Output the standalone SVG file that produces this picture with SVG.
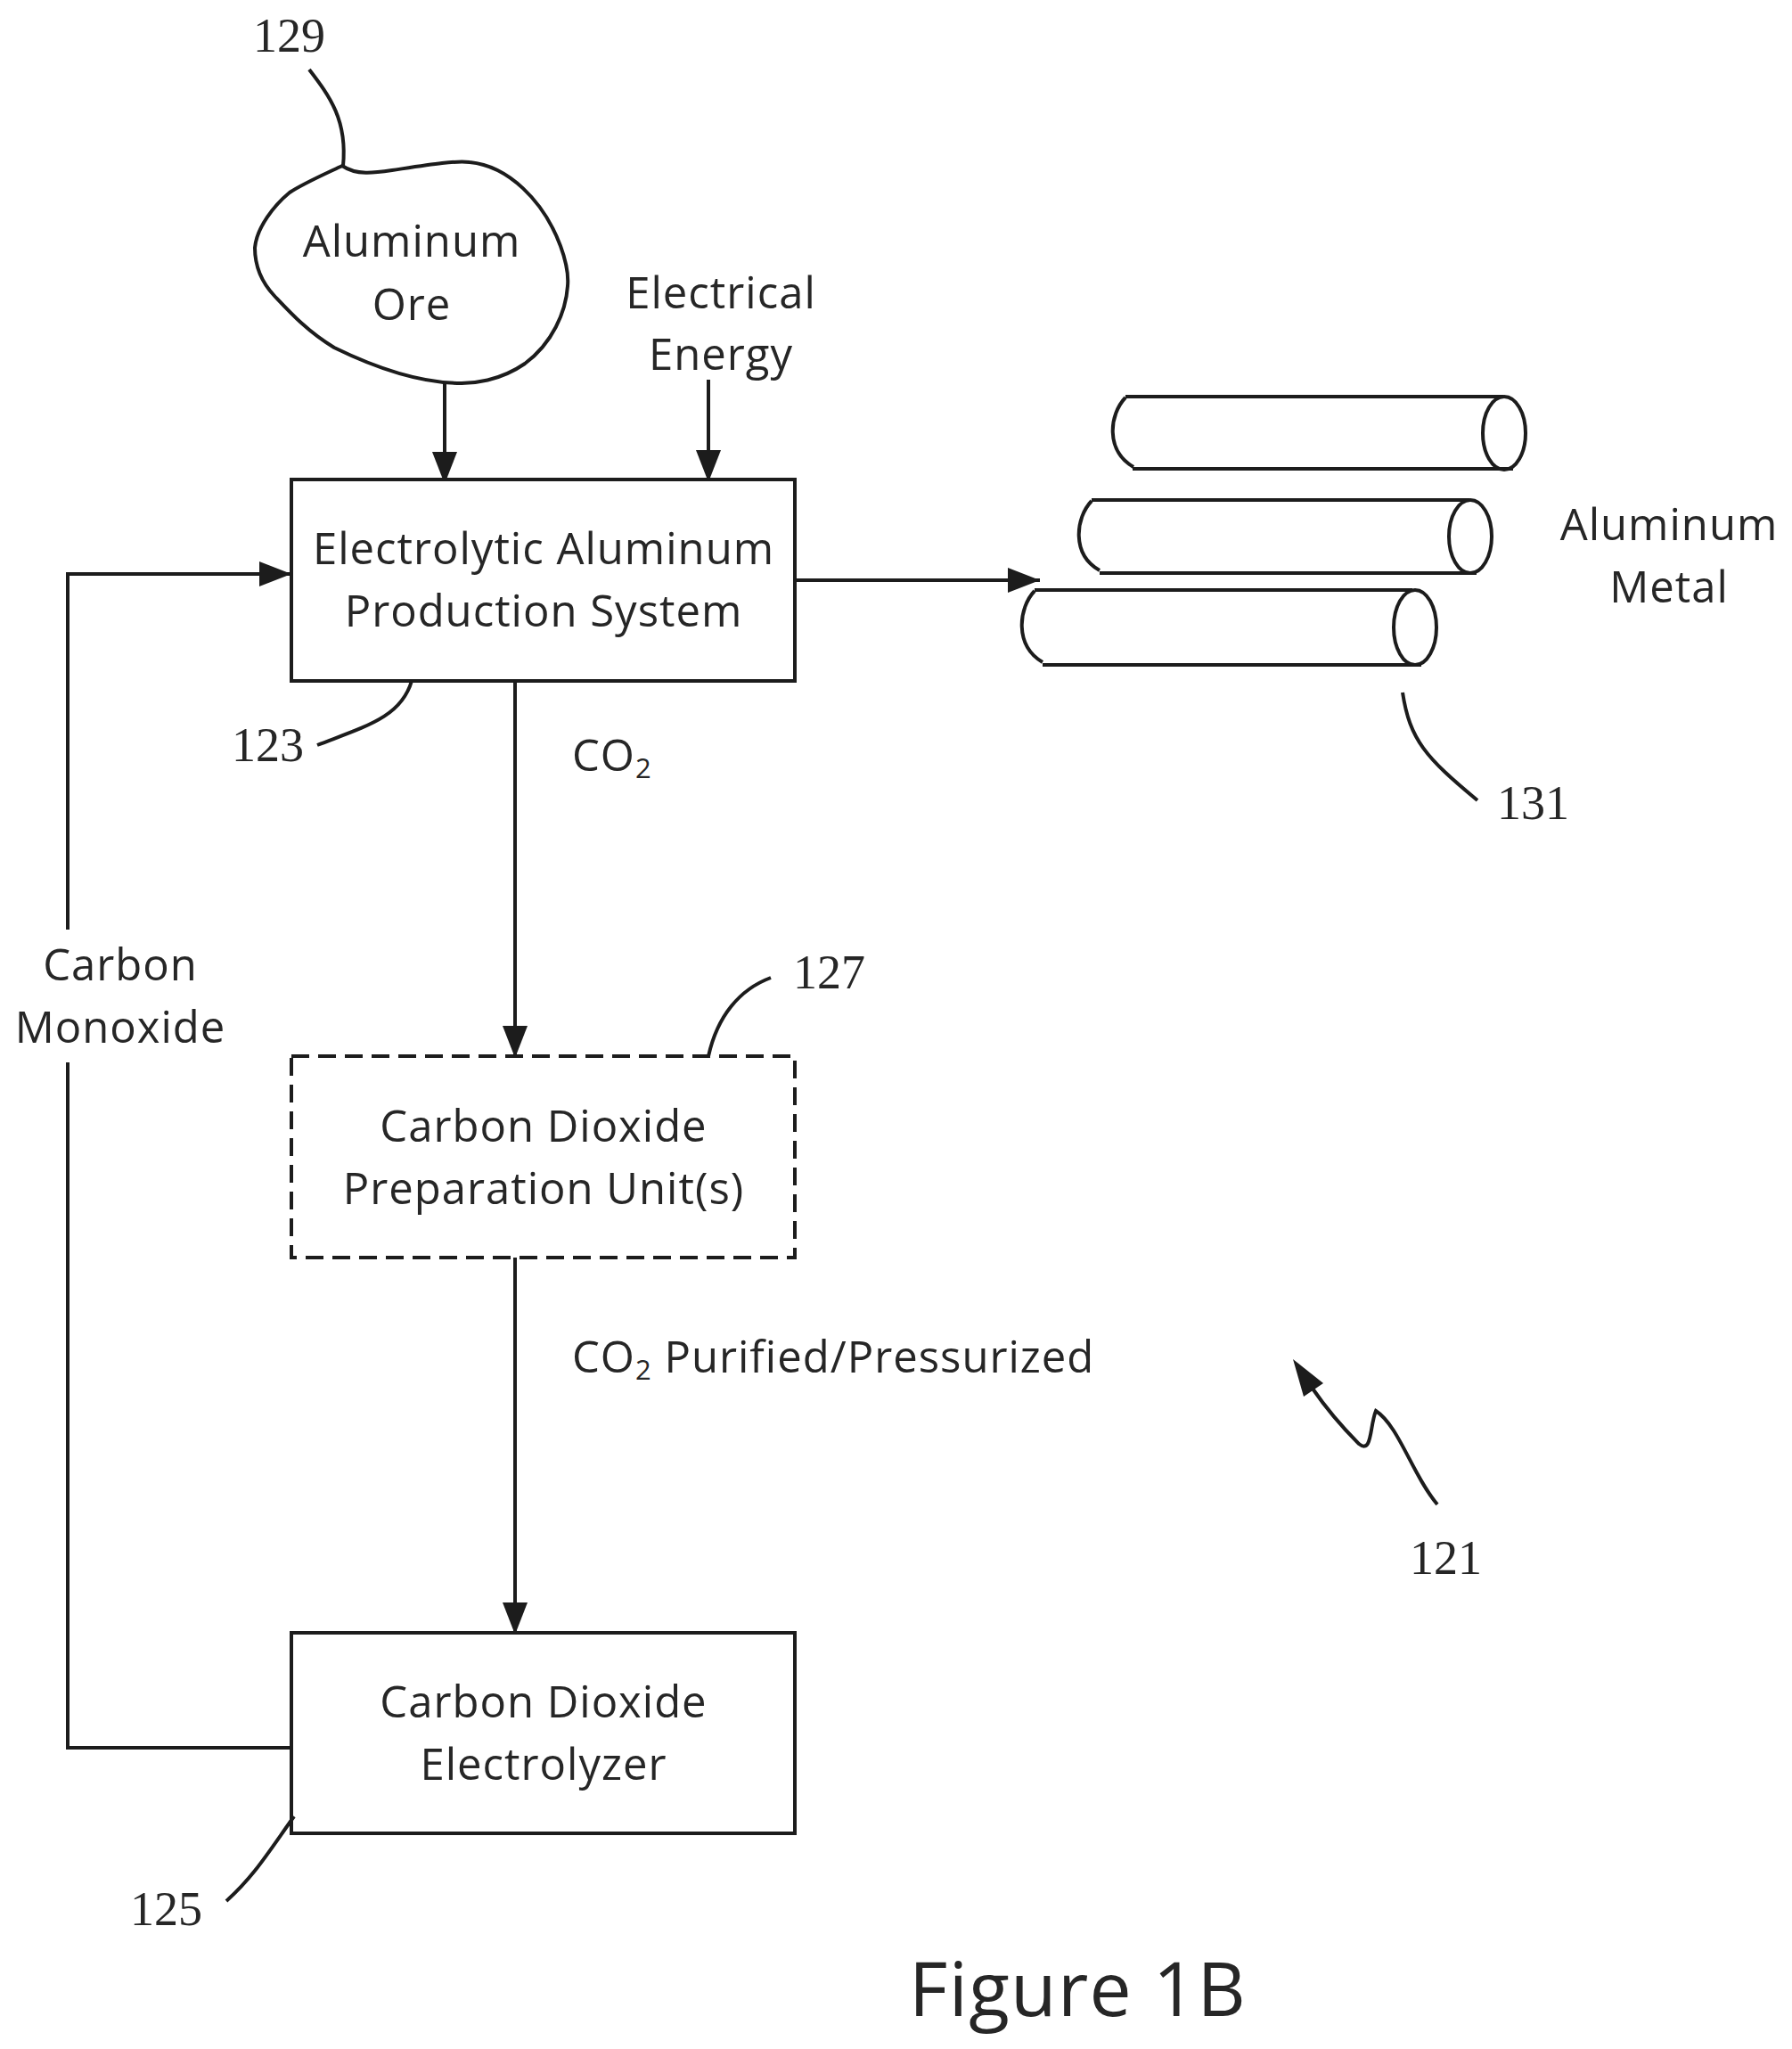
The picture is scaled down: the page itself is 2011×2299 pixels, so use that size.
<svg xmlns="http://www.w3.org/2000/svg" width="2011" height="2299" viewBox="0 0 2011 2299">
<style>
.l{fill:none;stroke:#1c1c1c;stroke-width:4}
.t{font-family:"Open Sans","Liberation Sans",sans-serif;font-size:49px;letter-spacing:1px;fill:#262626;text-anchor:middle}
.s{font-family:"Open Sans","Liberation Sans",sans-serif;font-size:49px;letter-spacing:1px;fill:#262626}
.n{font-family:"Liberation Serif",serif;font-size:54px;fill:#262626}
.box{fill:#fff;stroke:#1c1c1c;stroke-width:4}
</style>
<defs>
<marker id="a" markerUnits="userSpaceOnUse" markerWidth="38" markerHeight="28" refX="36" refY="14" orient="auto" viewBox="0 0 38 28"><path d="M0 0L36 14L0 28Z" fill="#1c1c1c"/></marker>
</defs>
<rect width="2011" height="2299" fill="#fff"/>
<g id="connectors">
<path class="l" marker-end="url(#a)" d="M499 430V543"/>
<path class="l" marker-end="url(#a)" d="M795 426V541"/>
<path class="l" d="M327 1961H76V1192"/>
<path class="l" marker-end="url(#a)" d="M76 1043V644H327"/>
<path class="l" marker-end="url(#a)" d="M892 651H1167"/>
<path class="l" marker-end="url(#a)" d="M578 764V1187"/>
<path class="l" marker-end="url(#a)" d="M578 1411V1834"/>
</g>
<g id="n129">
<path class="l" d="M347 78C370 108 390 135 385 186"/>
<path class="l" d="M384 186C400 197 420 194 440 191C480 185 510 180 527 182C570 186 610 225 629 276C636 295 638 310 637 321C635 350 620 385 589 408C560 428 530 430 518 430C470 430 420 412 375 390C345 372 325 350 308 332C292 315 286 295 286 278C288 255 308 230 325 216C340 206 365 195 384 186Z"/>
<text class="n" x="284" y="58">129</text>
<text class="t" x="462" y="288">Aluminum</text>
<text class="t" x="462" y="359">Ore</text>
</g>
<g id="energy">
<text class="t" x="809" y="346">Electrical</text>
<text class="t" x="809" y="415">Energy</text>
</g>
<g id="n123">
<rect class="box" x="327" y="538" width="565" height="226"/>
<text class="t" x="610" y="633">Electrolytic Aluminum</text>
<text class="t" x="610" y="703">Production System</text>
<path class="l" d="M462 764C450 805 410 815 356 836"/>
<text class="n" x="260" y="854">123</text>
</g>
<g id="n127">
<rect class="box" x="327" y="1185" width="565" height="226" stroke-dasharray="20 10"/>
<text class="t" x="610" y="1281">Carbon Dioxide</text>
<text class="t" x="610" y="1351">Preparation Unit(s)</text>
<path class="l" d="M795 1185C805 1140 830 1110 865 1097"/>
<text class="n" x="890" y="1109">127</text>
</g>
<g id="n125">
<rect class="box" x="327" y="1832" width="565" height="225"/>
<text class="t" x="610" y="1927">Carbon Dioxide</text>
<text class="t" x="610" y="1997">Electrolyzer</text>
<path class="l" d="M330 2038C300 2080 285 2105 254 2133"/>
<text class="n" x="146" y="2160">125</text>
</g>
<g id="labels">
<text class="s" x="642" y="865">CO<tspan font-size="31" dy="8">2</tspan></text>
<text class="s" x="642" y="1540" letter-spacing="0.8">CO<tspan font-size="31" dy="8">2</tspan><tspan dy="-8"> Purified/Pressurized</tspan></text>
<text class="t" x="135" y="1100">Carbon</text>
<text class="t" x="135" y="1170">Monoxide</text>
</g>
<g id="n131">
<path class="l" d="M1263 445H1687M1271 526H1698M1263 446C1245 465 1240 505 1272 524"/>
<ellipse class="l" cx="1688" cy="486" rx="24" ry="41"/>
<path class="l" d="M1225 561H1649M1234 643H1657M1225 562C1207 581 1202 622 1234 640"/>
<ellipse class="l" cx="1650" cy="602" rx="24" ry="41"/>
<path class="l" d="M1161 662H1585M1170 746H1595M1161 663C1143 682 1138 724 1170 743"/>
<ellipse class="l" cx="1588" cy="704" rx="24" ry="42"/>
<path class="l" d="M1574 777C1582 830 1600 850 1658 898"/>
<text class="n" x="1680" y="919">131</text>
<text class="t" x="1873" y="606">Aluminum</text>
<text class="t" x="1873" y="676">Metal</text>
</g>
<g id="n121">
<path d="M1451 1525L1485 1552L1463 1567Z" fill="#1c1c1c"/>
<path class="l" d="M1473 1558C1495 1590 1515 1610 1525 1620C1540 1632 1537 1600 1544 1583C1570 1600 1585 1655 1613 1688"/>
<text class="n" x="1582" y="1766">121</text>
</g>
<text id="caption" x="1020" y="2262" font-family="Open Sans,Liberation Sans,sans-serif" font-size="84" letter-spacing="1.3" fill="#262626">Figure 1B</text>
</svg>
